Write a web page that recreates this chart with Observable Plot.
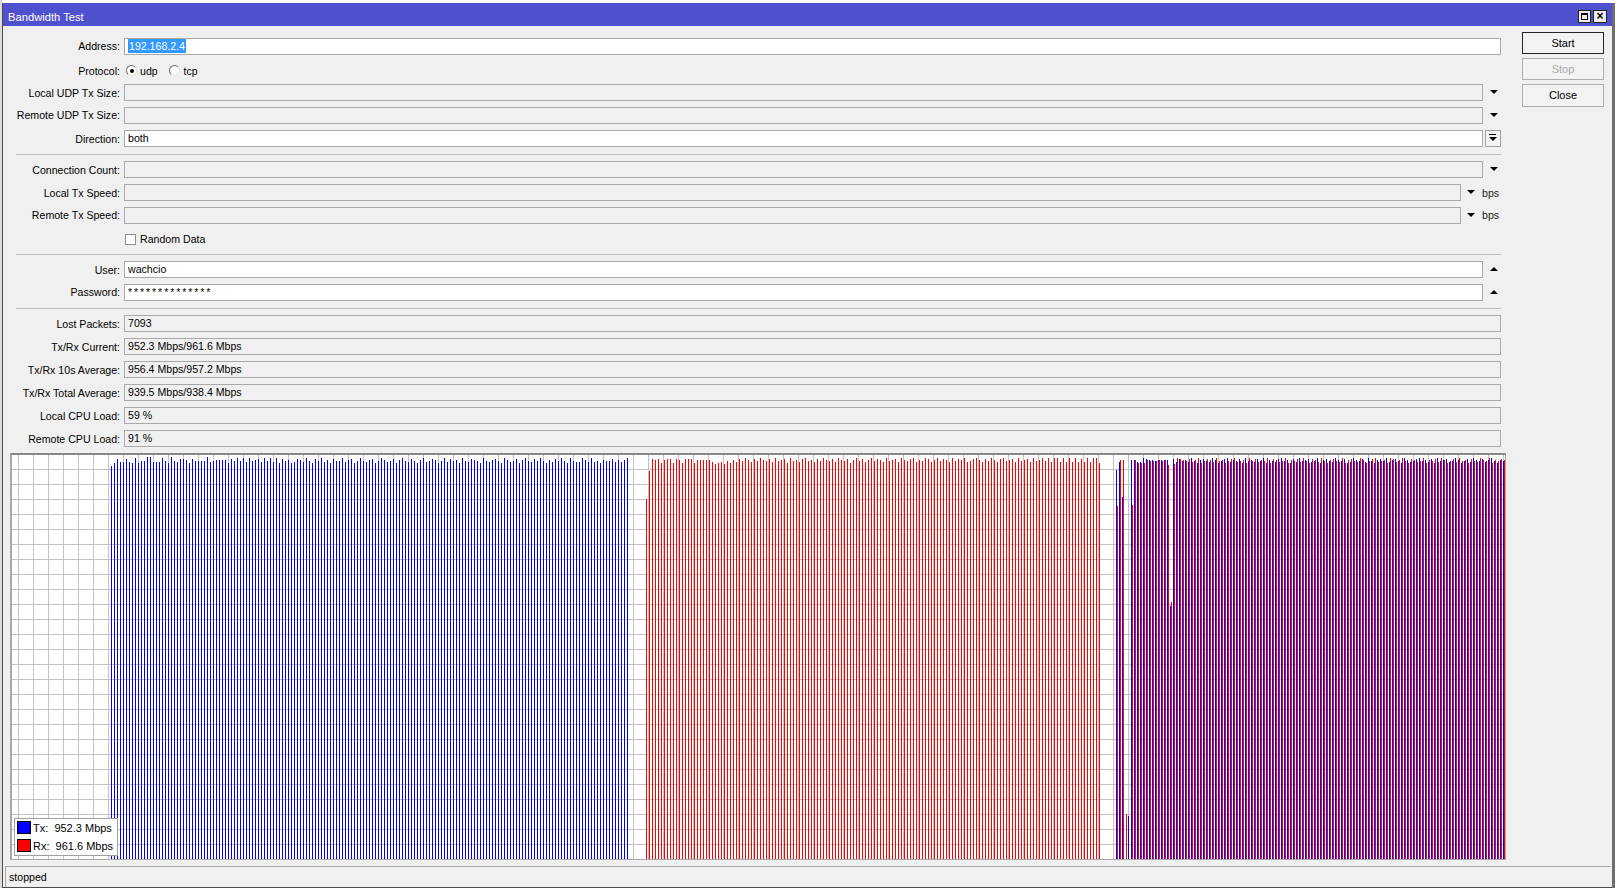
<!DOCTYPE html>
<html><head><meta charset="utf-8">
<script src="https://cdn.jsdelivr.net/npm/d3@7"></script>
<script src="https://cdn.jsdelivr.net/npm/@observablehq/plot@0.6"></script>
<style>
html,body{margin:0;padding:0}
body{width:1617px;height:888px;position:relative;overflow:hidden;background:#fff;font-family:"Liberation Sans",Arial,sans-serif;font-size:10.6px;color:#000}
.a{position:absolute;box-sizing:border-box;white-space:pre}
.lbl{text-align:right;height:16px;line-height:16px}
.fld{height:17px;border:1px solid #a9a9a9;background:#f0f0f0;padding-left:3px;line-height:15px}
.fld.w{background:#fff}
.tdn{position:absolute;width:0;height:0;border-left:4.5px solid transparent;border-right:4.5px solid transparent;border-top:4.5px solid #000}
.tup{position:absolute;width:0;height:0;border-left:4.5px solid transparent;border-right:4.5px solid transparent;border-bottom:4.5px solid #000}
.sep{height:1px;background:#c2c2c2}
.btn{border:1px solid #adadad;background:#f3f3f3;text-align:center;font-size:11px;line-height:21px}
</style>
</head><body>
<script>
// ---------- chart data (Mbps per sample, one sample per second) ----------
const seriesNames = ["Tx", "Rx"];
const seriesColors = ["#0000ff", "#ff0000"];
const legendValues = ["952.3 Mbps", "961.6 Mbps"];

// sample index where each phase of the test begins
const TX_ONLY_START = 33;
const RX_ONLY_START = 211;
const BOTH_START = 368;

// phase 1: direction = transmit only (Tx)
const txPhase1 = [
 943,950,960,953,953,960,953,950,962,950,955,955,965,965,953,953,953,962,955,950,
 965,955,953,960,960,958,950,960,955,955,955,955,965,953,955,958,958,958,958,950,
 960,955,962,955,962,953,962,955,958,960,953,962,955,962,953,962,950,960,955,958,
 950,953,960,
 958,953,962,955,950,960,955,962,953,958,950,960,955,955,962,953,958,960,950,955,
 962,955,953,958,960,950,955,962,958,953,955,960,950,958,962,955,953,960,955,950,
 958,962,953,955,960,958,950,955,962,953,960,955,958,950,962,955,953,960,958,955,
 950,962,955,953,958,960,955,950,962,958,953,955,960,950,958,962,955,953,960,955,
 962,955,950,958,953,960,955,
 962,955,950,962,955,953,953,962,958,953,962,953,955,950,958,955,955,960,953,958,
 953,958,962
];

// phase 2: direction = receive only (Rx)
const rxPhase2 = [
 864,932,960,958,960,950,958,960,960,950,960,958,950,960,960,960,950,958,958,958,958,
 958,953,948,950,953,948,955,950,958,953,960,955,962,958,953,960,955,962,958,955,
 960,953,962,955,958,960,950,962,955,958,953,960,962,955,958,953,960,955,962,958,
 955,960,953,962,958,955,960,950,958,962,955,960,953,958,962,955,960,958,953,962,
 955,958,960,953,962,958,955,960,962,953,958,955,962,960,953,958,962,955,960,958,
 953,962,955,960,958,962,953,955,960,962,958,953,960,955,962,958,953,960,962,955,
 958,960,953,962,955,958,960,953,962,955,958,962,955,
 962,953,962,962,953,962,953,962,953,962,953,960,953,962,953,962,962,950
];

// phase 3: direction = both (Tx and Rx per sample)
const txPhase3 = [
 934,953,869,0,103,958,958,953,953,962,960,958,958,955,958,958,958,958,608,960,953,960,955,
 958,953,962,955,950,958,960,955,953,962,958,950,955,960,962,953,958,955,960,950,
 962,955,958,953,960,955,962,950,958,955,953,960,962,955,958,950,960,953,962,955,
 958,960,953,955,962,950,958,960,955,953,962,958,955,960,950,953,962,958,955,960,
 953,962,955,950,958,960,955,962,953,958,960,955,950,962,958,953,955,960,962,955,
 958,953,960,950,962,955,958,960,953,955,962,958,950,955,960,953,962,958,955,960,
 953,958,962,955,950,958,955
];
const rxPhase3 = [
 847,958,958,108,0,850,958,950,950,950,958,955,955,955,958,955,958,946,617,948,962,960,958,
 955,960,953,958,962,950,955,960,958,953,962,955,958,950,955,960,962,953,955,958,
 950,962,955,960,953,958,955,962,950,960,958,953,955,962,950,958,955,960,953,962,
 955,950,960,958,953,962,955,950,958,960,955,953,962,950,958,960,955,953,962,958,
 950,955,960,962,953,955,958,950,962,960,953,958,962,955,950,960,958,953,955,962,
 950,958,955,960,953,962,958,950,955,960,953,962,955,958,950,960,955,953,962,958,
 955,962,950,958,955,960,958
];

const FULL_SCALE = 969.6;   // Mbps at the top of the graph
const GRID_Y_STEP = 36;     // Mbps per grid row
const GRID_X_STEP = 5;      // samples per grid column
const GRID_X_PHASE = 2;

// ---------- form helpers ----------
function el(cls, st, text){
  const d = document.createElement("div");
  d.className = "a " + cls;
  for (const k in st) d.style[k] = (typeof st[k] === "number") ? st[k] + "px" : st[k];
  if (text != null) d.textContent = text;
  document.body.appendChild(d);
  return d;
}
// window frame
el("", {left:0, top:0, width:2, height:888, background:"#dcdcdc"});
el("", {left:2, top:3, width:1611, height:885, background:"#f0f0f0", borderLeft:"1px solid #4a4a4a", borderTop:"1px solid #4a4a4a", borderBottom:"1px solid #4a4a4a"});
el("", {left:1612, top:3, width:3, height:885, background:"#6e6e6e"});
el("", {left:3, top:3, width:1609, height:23, background:"#4f50cd"});
el("", {left:8, top:9, height:16, lineHeight:16, color:"#fff", fontSize:11.2}, "Bandwidth Test");
const mx = el("", {left:1578, top:10, width:13, height:13, background:"#ececec", border:"1px solid #222"});
mx.innerHTML = '<div style="position:absolute;left:2px;top:2px;width:7px;height:7px;box-sizing:border-box;border:1px solid #000;border-top-width:2px"></div>';
el("", {left:1593, top:10, width:14, height:13, background:"#ececec", border:"1px solid #222", textAlign:"center", lineHeight:11, fontSize:12, fontWeight:"bold"}, "\u00d7");

// labels + fields
function label(text, cy){ el("lbl", {left:0, width:120, top:cy-8}, text); }
function field(cy, right, white, text){ return el("fld" + (white ? " w" : ""), {left:124, top:cy-8.5, width:right-124}, text); }
function down(x, cy){ el("tdn", {left:x, top:cy-2.5}); }
function up(x, cy){ el("tup", {left:x, top:cy-2.5}); }

label("Address:", 46);
const ad = field(46, 1501, true, "");
ad.innerHTML = '<span style="background:#3399ff;color:#fff;padding:1px 1px">192.168.2.4</span>';

label("Protocol:", 70.7);
function radio(x, cy, on){
  const r = el("", {left:x, top:cy-5.5, width:11, height:11, borderRadius:"50%", background:"#fff", borderTop:"1px solid #6a6a6a", borderLeft:"1px solid #6a6a6a", borderRight:"1px solid #dcdcdc", borderBottom:"1px solid #dcdcdc"});
  if (on) r.innerHTML = '<div style="position:absolute;left:2.5px;top:2.5px;width:4px;height:4px;border-radius:50%;background:#000"></div>';
}
radio(126, 70.7, true); el("", {left:140, top:62.7, lineHeight:16}, "udp");
radio(169, 70.7, false); el("", {left:183.5, top:62.7, lineHeight:16}, "tcp");

label("Local UDP Tx Size:", 92.5); field(92.5, 1483, false); down(1489.5, 92.5);
label("Remote UDP Tx Size:", 115.2); field(115.2, 1483, false); down(1489.5, 115.2);
label("Direction:", 138.7); field(138.7, 1483, true, "both");
const db = el("", {left:1484.5, top:130.2, width:16, height:17, border:"1px solid #a0a0a0", background:"#f4f4f4"});
db.innerHTML = '<div style="position:absolute;left:3.5px;top:3px;width:7px;height:1px;background:#000"></div><div class="tdn" style="left:3px;top:5.5px;border-left-width:4px;border-right-width:4px;border-top-width:4px"></div>';
el("sep", {left:16, top:153.5, width:1485});

label("Connection Count:", 169.7); field(169.7, 1483, false); down(1489.5, 169.7);
label("Local Tx Speed:", 192.5); field(192.5, 1461, false); down(1467, 192.5); el("", {left:1482, top:184.5, lineHeight:16, color:"#222"}, "bps");
label("Remote Tx Speed:", 215.3); field(215.3, 1461, false); down(1467, 215.3); el("", {left:1482, top:207.3, lineHeight:16, color:"#222"}, "bps");
el("", {left:124.5, top:233.5, width:11, height:11, background:"#fff", border:"1px solid #8f8f8f"});
el("", {left:140, top:231, lineHeight:16}, "Random Data");
el("sep", {left:16, top:254.3, width:1485});

label("User:", 269.7); field(269.7, 1483, true, "wachcio"); up(1489.5, 269.7);
label("Password:", 292.2); field(292.2, 1483, true, "**************").style.letterSpacing = "1.9px"; up(1489.5, 292.2);
el("sep", {left:16, top:308, width:1485});

const stats = [
  ["Lost Packets:", "7093"],
  ["Tx/Rx Current:", "952.3 Mbps/961.6 Mbps"],
  ["Tx/Rx 10s Average:", "956.4 Mbps/957.2 Mbps"],
  ["Tx/Rx Total Average:", "939.5 Mbps/938.4 Mbps"],
  ["Local CPU Load:", "59 %"],
  ["Remote CPU Load:", "91 %"]
];
stats.forEach(([l, v], i) => { const cy = 323.5 + 23 * i; label(l, cy); field(cy, 1501, false, v); });

// buttons
el("btn", {left:1522, top:32, width:82, height:22, border:"1px solid #262626"}, "Start");
el("btn", {left:1522, top:58, width:82, height:22, color:"#a8a8a8"}, "Stop");
el("btn", {left:1522, top:84, width:82, height:23}, "Close");

// status bar
el("", {left:5, top:866, width:1606, height:21, borderTop:"1px solid #a8a8a8", borderLeft:"1px solid #a8a8a8", lineHeight:20, paddingLeft:3}, "stopped");

// ---------- chart ----------
const box = el("", {left:10, top:453, width:1496, height:407, background:"#fff", borderTop:"2px solid #878787", borderLeft:"2px solid #a8a8a8", borderRight:"1px solid #a8a8a8", borderBottom:"1px solid #a8a8a8"});
const W = 1493, H = 404;
const slots = W / 3;

const bars = [];
txPhase1.forEach((v, k) => bars.push({t: TX_ONLY_START + k, s: "Tx", v}));
rxPhase2.forEach((v, k) => bars.push({t: RX_ONLY_START + k, s: "Rx", v}));
txPhase3.forEach((v, k) => bars.push({t: BOTH_START + k, s: "Tx", v}));
rxPhase3.forEach((v, k) => bars.push({t: BOTH_START + k, s: "Rx", v}));

const chart = Plot.plot({
  width: W, height: H, margin: 0,
  style: {background: "#fff", overflow: "hidden", display: "block"},
  x: {domain: [0, slots], range: [0, W], axis: null},
  y: {domain: [0, FULL_SCALE], range: [H, 0], axis: null},
  color: {domain: seriesNames, range: seriesColors},
  marks: [
    Plot.ruleX(d3.range(GRID_X_PHASE, slots, GRID_X_STEP), {stroke: "#c2c2c2", shapeRendering: "crispEdges"}),
    Plot.ruleY(d3.range(GRID_Y_STEP, FULL_SCALE, GRID_Y_STEP), {stroke: "#c2c2c2", shapeRendering: "crispEdges"}),
    Plot.ruleX(bars.filter(d => d.v > 0), {
      x: d => d.t + (d.s === "Rx" ? 1 / 3 : 0),
      y1: 0, y2: "v", stroke: "s", strokeWidth: 1, shapeRendering: "crispEdges"
    })
  ]
});
chart.style.position = "absolute";
chart.style.left = "0px";
chart.style.top = "0px";
box.appendChild(chart);

// legend (overlay box inside the graph)
const lg = el("", {left:14, top:818, width:104, height:38, background:"#fff", border:"1px solid #a0a0a0"});
seriesNames.forEach((s, i) => {
  const y = 2 + i * 17.5;
  const sw = document.createElement("div");
  Object.assign(sw.style, {position:"absolute", left:"2px", top:(y)+"px", width:"14px", height:"13px", boxSizing:"border-box", border:"1px solid #000", background:seriesColors[i]});
  lg.appendChild(sw);
  const t = document.createElement("div");
  Object.assign(t.style, {position:"absolute", left:"18px", top:(y - 1)+"px", lineHeight:"16px", fontSize:"11px", whiteSpace:"pre"});
  t.textContent = s + ":  " + legendValues[i];
  lg.appendChild(t);
});
</script>
</body></html>
